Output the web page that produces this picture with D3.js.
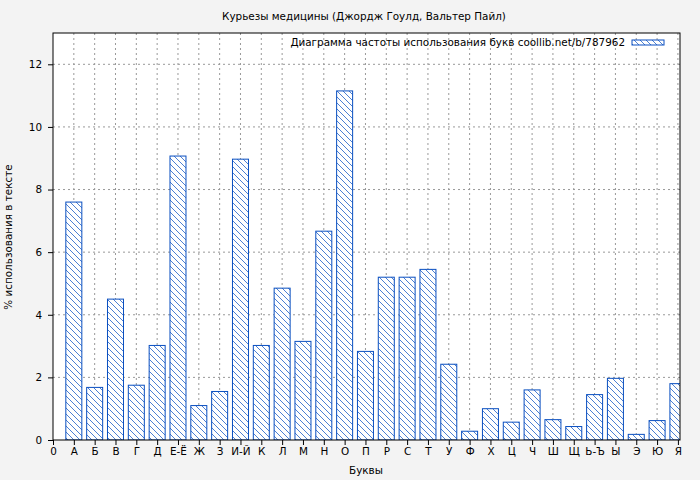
<!DOCTYPE html>
<html><head><meta charset="utf-8">
<script src="https://cdn.jsdelivr.net/npm/d3@7"></script>
<style>body{margin:0;background:#f3f3f3;font-family:"DejaVu Sans",sans-serif;}</style>
</head><body>
<svg id="c" width="700" height="480"></svg>
<script>
var letters = ["А","Б","В","Г","Д","Е-Ё","Ж","З","И-Й","К","Л","М","Н","О","П","Р","С","Т","У","Ф","Х","Ц","Ч","Ш","Щ","Ь-Ъ","Ы","Э","Ю","Я"];
var percents = [7.6,1.68,4.5,1.75,3.02,9.07,1.1,1.55,8.97,3.02,4.85,3.15,6.67,11.15,2.83,5.2,5.2,5.45,2.42,0.28,1.0,0.57,1.6,0.65,0.43,1.45,1.97,0.18,0.62,1.8];
var tickLabels = ["0"].concat(letters);
var yTicks = [0,2,4,6,8,10,12];

var svg = d3.select("#c");
var pLeft = 53, pRight = 680, pTop = 33, pBottom = 440;
var fs = 10.4;
var x = d3.scaleLinear().domain([0, 30.1]).range([pLeft, pRight]);
var y = d3.scaleLinear().domain([0, 13]).range([pBottom, pTop]);

var defs = svg.append("defs");
var pat = defs.append("pattern").attr("id","hatch").attr("patternUnits","userSpaceOnUse")
  .attr("width",6).attr("height",6);
pat.append("rect").attr("width",6).attr("height",6).attr("fill","#fff");
pat.append("path").attr("d","M0,0L6,6M-3,3L3,9M3,-3L9,3").attr("stroke","#1f5fc8").attr("stroke-width",0.8);
defs.append("clipPath").attr("id","clip").append("rect")
  .attr("x",pLeft).attr("y",pTop).attr("width",pRight-pLeft).attr("height",pBottom-pTop);

svg.append("rect").attr("x",pLeft).attr("y",pTop).attr("width",pRight-pLeft).attr("height",pBottom-pTop).attr("fill","#fff");

// grid
svg.append("g").selectAll("line").data(d3.range(1,31)).join("line")
  .attr("x1",d=>x(d)).attr("x2",d=>x(d)).attr("y1",pTop).attr("y2",pBottom)
  .attr("stroke","#999").attr("stroke-dasharray","2,3");
svg.append("g").selectAll("line").data(yTicks.slice(1)).join("line")
  .attr("x1",pLeft).attr("x2",pRight).attr("y1",d=>y(d)).attr("y2",d=>y(d))
  .attr("stroke","#999").attr("stroke-dasharray","2,3");

// bars
svg.append("g").attr("clip-path","url(#clip)").selectAll("rect").data(percents).join("rect")
  .attr("x",(d,i)=>x(i+1)-8).attr("width",16)
  .attr("y",d=>y(d)).attr("height",d=>y(0)-y(d))
  .attr("fill","url(#hatch)").attr("stroke","#0a4fc0").attr("stroke-width",1);

svg.append("rect").attr("x",pLeft).attr("y",pTop).attr("width",pRight-pLeft).attr("height",pBottom-pTop)
  .attr("fill","none").attr("stroke","#000");

// axes
var xa = svg.append("g").attr("transform","translate(0,"+pBottom+")")
  .call(d3.axisBottom(x).tickValues(d3.range(0,31)).tickFormat(i=>tickLabels[i]).tickSize(5).tickPadding(3));
var ya = svg.append("g").attr("transform","translate("+pLeft+",0)")
  .call(d3.axisLeft(y).tickValues(yTicks).tickSize(5).tickPadding(6));
[xa,ya].forEach(a=>{a.select(".domain").remove();a.selectAll("text").attr("font-size",fs).attr("fill","#000").attr("font-family","DejaVu Sans");});

svg.append("text").attr("x",364).attr("y",20).attr("text-anchor","middle").attr("font-size",fs)
  .text("Курьезы медицины (Джордж Гоулд, Вальтер Пайл)");
svg.append("text").attr("x",366).attr("y",474).attr("text-anchor","middle").attr("font-size",fs).text("Буквы");
svg.append("text").attr("transform","translate(12,237) rotate(-90)").attr("text-anchor","middle").attr("font-size",fs)
  .text("% использования в тексте");

// legend
svg.append("text").attr("x",625).attr("y",46).attr("text-anchor","end").attr("font-size",fs)
  .text("Диаграмма частоты использования букв coollib.net/b/787962");
svg.append("rect").attr("x",632).attr("y",40).attr("width",32).attr("height",5)
  .attr("fill","url(#hatch)").attr("stroke","#0a4fc0");
</script>
</body></html>
